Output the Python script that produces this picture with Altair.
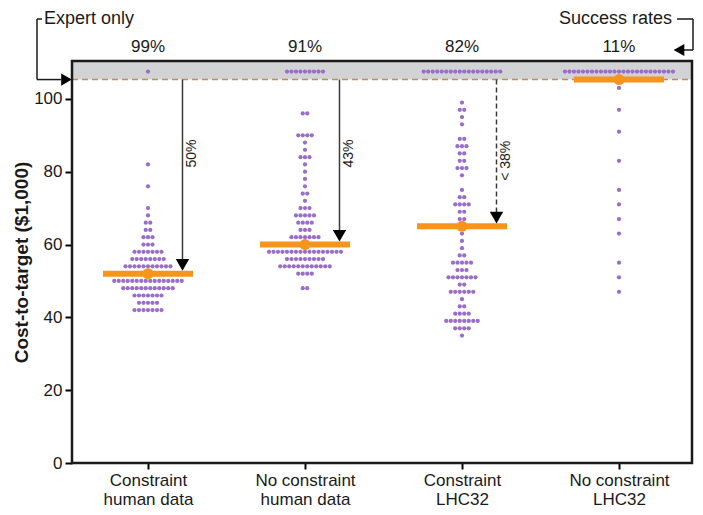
import json
import altair as alt
import pandas as pd

# ---------------- data ----------------
cat_lines = [["Constraint", "human data"], ["No constraint", "human data"],
             ["Constraint", "LHC32"], ["No constraint", "LHC32"]]
success_rates = ["99%", "91%", "82%", "11%"]

g1_rows = [82, 76, 70, 68, 66, 64, 62, 60, 58, 56, 54, 52, 50, 48, 46, 44, 42]
g1_counts = [1, 1, 1, 1, 2, 2, 3, 3, 7, 8, 11, 12, 16, 12, 7, 5, 7]

g2_rows = [96, 90, 88, 86, 84, 82, 80, 78, 76, 74, 72, 70, 68, 66, 64, 62, 60, 58, 56, 54, 52, 48]
g2_counts = [2, 4, 1, 1, 3, 1, 1, 1, 1, 2, 1, 3, 5, 4, 3, 7, 7, 17, 9, 12, 4, 2]

g3_rows = [99, 97, 95, 93, 89, 87, 85, 83, 81, 79, 75, 73, 71, 69, 67, 65, 63, 61, 59, 57,
           55, 53, 51, 49, 47, 45, 43, 41, 39, 37, 35]
g3_counts = [1, 2, 1, 1, 2, 3, 2, 2, 3, 1, 1, 2, 4, 2, 2, 5, 1, 1, 1, 2,
             5, 3, 7, 2, 6, 1, 2, 4, 8, 4, 1]

g4_rows = [103, 97, 91, 83, 75, 71, 67, 63, 55, 51, 47]
g4_counts = [1, 1, 1, 1, 1, 1, 1, 1, 1, 1, 1]

fail_shown = [1, 9, 18, 25]          # dots drawn in the "expert only" band
centers = [52, 60, 65, 105.3]        # orange summary markers
drop_labels = ["50%", "43%", "< 38%"]
drop_label_y = [85, 85, 83]

fail_level = 105.3
fail_dot_y = 107.5
y_top = 110.4
x_lo, x_hi = 0.516, 4.465

# ---------------- layout helpers ----------------
VW, VH = 620, 402
VL, VT = 72, 61                 # view origin on the page
PX = VW / (x_hi - x_lo)         # pixels per x unit
PY = VH / y_top
DX = 4.5 / PX                   # dot spacing in x units


def ux(px):
    return x_lo + (px - VL) / PX


def uy(py):
    return (VT + VH - py) / PY


groups = [(g1_rows, g1_counts), (g2_rows, g2_counts), (g3_rows, g3_counts), (g4_rows, g4_counts)]
recs = []
for gi, (rows, counts) in enumerate(groups):
    c = gi + 1
    for v, n in zip(rows, counts):
        for i in range(n):
            recs.append({"x": c + (i - (n - 1) / 2) * DX, "y": v})
    nf = fail_shown[gi]
    for i in range(nf):
        recs.append({"x": c + (i - (nf - 1) / 2) * DX, "y": fail_dot_y})
dots = pd.DataFrame(recs)

expr = "''"
for i in reversed(range(4)):
    expr = f"datum.value == {i + 1} ? {json.dumps(cat_lines[i])} : ({expr})"

FONT = "Liberation Sans"
xs = alt.Scale(domain=[x_lo, x_hi], nice=False, zero=False)
ys = alt.Scale(domain=[0, y_top], nice=False, zero=True)
xaxis = alt.Axis(values=[1, 2, 3, 4], labelExpr=expr, title=None, grid=False, domain=False,
                 tickSize=6, tickWidth=2, tickColor="black", labelFontSize=17,
                 labelColor="#1a1a1a", labelFont=FONT, labelPadding=3, labelLineHeight=19,
                 labelBaseline="top")
yaxis = alt.Axis(values=[0, 20, 40, 60, 80, 100], title="Cost-to-target ($1,000)", grid=False,
                 domain=False, tickSize=7, tickWidth=2, tickColor="black", labelFontSize=17,
                 labelColor="#1a1a1a", labelFont=FONT, labelPadding=3, titleFont=FONT,
                 titleFontSize=19, titleFontWeight="bold", titleColor="#1a1a1a", titlePadding=2)

X = alt.X("x:Q", scale=xs, axis=xaxis)
Y = alt.Y("y:Q", scale=ys, axis=yaxis)

# gray band + dashed line
band_df = pd.DataFrame({"x": [x_lo], "x2": [x_hi], "y": [fail_level], "y2": [y_top]})
band = alt.Chart(band_df).mark_rect(color="#d1d3d5").encode(x=X, x2="x2:Q", y=Y, y2="y2:Q")
dash = alt.Chart(band_df).mark_rule(color="#c98a52", strokeWidth=1.6, strokeDash=[6, 4]).encode(
    x=X, x2="x2:Q", y=Y)

pts = alt.Chart(dots).mark_circle(color="#9a6ec8", size=18, opacity=1).encode(x=X, y=Y)

HW = 45 / PX
cen_df = pd.DataFrame({"x": [i + 1 - HW for i in range(4)], "x2": [i + 1 + HW for i in range(4)],
                       "xc": [i + 1 for i in range(4)], "y": centers})
bars = alt.Chart(cen_df).mark_rule(color="#f7941d", strokeWidth=6, strokeCap="butt").encode(
    x=X, x2="x2:Q", y=Y)
dotc = alt.Chart(cen_df).mark_point(color="#f7941d", filled=True, size=120, opacity=1).encode(
    x=alt.X("xc:Q", scale=xs, axis=xaxis), y=Y)

# arrows
AX = 34.5 / PX
arr_df = pd.DataFrame({"x": [i + 1 + AX for i in range(3)], "y": [fail_level] * 3,
                       "y2": [centers[i] + 3 for i in range(3)],
                       "yt": [centers[i] + 2.4 for i in range(3)],
                       "xl": [i + 1 + AX + 10 / PX for i in range(3)],
                       "yl": drop_label_y, "lab": drop_labels})
arr_solid = alt.Chart(arr_df.iloc[:2]).mark_rule(color="#3a3a3a", strokeWidth=1.5).encode(
    x=X, y=Y, y2="y2:Q")
arr_dash = alt.Chart(arr_df.iloc[2:]).mark_rule(color="#3a3a3a", strokeWidth=1.5,
                                                 strokeDash=[5, 3]).encode(x=X, y=Y, y2="y2:Q")
heads = alt.Chart(arr_df).mark_point(shape="triangle-down", filled=True, size=180, color="black",
                                     opacity=1).encode(x=X, y=alt.Y("yt:Q", scale=ys, axis=yaxis))
arr_txt = alt.Chart(arr_df).mark_text(angle=270, fontSize=14, font=FONT, color="#1a1a1a").encode(
    x=alt.X("xl:Q", scale=xs, axis=xaxis), y=alt.Y("yl:Q", scale=ys, axis=yaxis), text="lab:N")

# success rates row
sr_df = pd.DataFrame({"x": [1, 2, 3, 4], "y": [uy(47)] * 4, "t": success_rates})
sr_txt = alt.Chart(sr_df).mark_text(fontSize=17, font=FONT, color="#1a1a1a").encode(
    x=X, y=Y, text="t:N")

TOP = 19
ann_df = pd.DataFrame({"x": [ux(44), ux(672)], "y": [uy(TOP), uy(TOP)],
                       "t": ["Expert only", "Success rates"]})
ann_l = alt.Chart(ann_df.iloc[:1]).mark_text(fontSize=18, font=FONT, align="left",
                                             color="#1a1a1a").encode(x=X, y=Y, text="t:N")
ann_r = alt.Chart(ann_df.iloc[1:]).mark_text(fontSize=18, font=FONT, align="right",
                                             color="#1a1a1a").encode(x=X, y=Y, text="t:N")

seg_df = pd.DataFrame({
    "x":  [ux(42), ux(37), ux(37), ux(677), ux(693), ux(693)],
    "x2": [ux(37), ux(37), ux(61), ux(693), ux(693), ux(684)],
    "y":  [uy(TOP), uy(TOP), fail_level, uy(TOP), uy(TOP), uy(50)],
    "y2": [uy(TOP), fail_level, fail_level, uy(TOP), uy(50), uy(50)],
})
segs = alt.Chart(seg_df).mark_rule(color="#1a1a1a", strokeWidth=1.5).encode(
    x=X, x2="x2:Q", y=Y, y2="y2:Q")
tri_df = pd.DataFrame({"x": [ux(66.5), ux(679)], "y": [fail_level, uy(50)],
                       "s": ["triangle-right", "triangle-left"]})
tris = alt.Chart(tri_df).mark_point(filled=True, size=150, color="black", opacity=1).encode(
    x=X, y=Y, shape=alt.Shape("s:N", scale=None, legend=None))

frame_df = pd.DataFrame({"x": [x_lo], "x2": [x_hi], "y": [0], "y2": [y_top]})
frame = alt.Chart(frame_df).mark_rect(fillOpacity=0, stroke="#1a1a1a", strokeWidth=2.5).encode(
    x=X, x2="x2:Q", y=Y, y2="y2:Q")

chart = alt.layer(band, dash, pts, bars, dotc, arr_solid, arr_dash, heads, arr_txt,
                  sr_txt, ann_l, ann_r, segs, tris, frame).properties(
    width=VW, height=VH,
    autosize=alt.AutoSizeParams(type="none"),
    padding={"left": VL - 8, "top": VT - 8, "right": 3, "bottom": 44},
    background="white",
).configure_view(stroke=None)

chart.save("out.html", embed_options={"renderer": "svg", "actions": False})
